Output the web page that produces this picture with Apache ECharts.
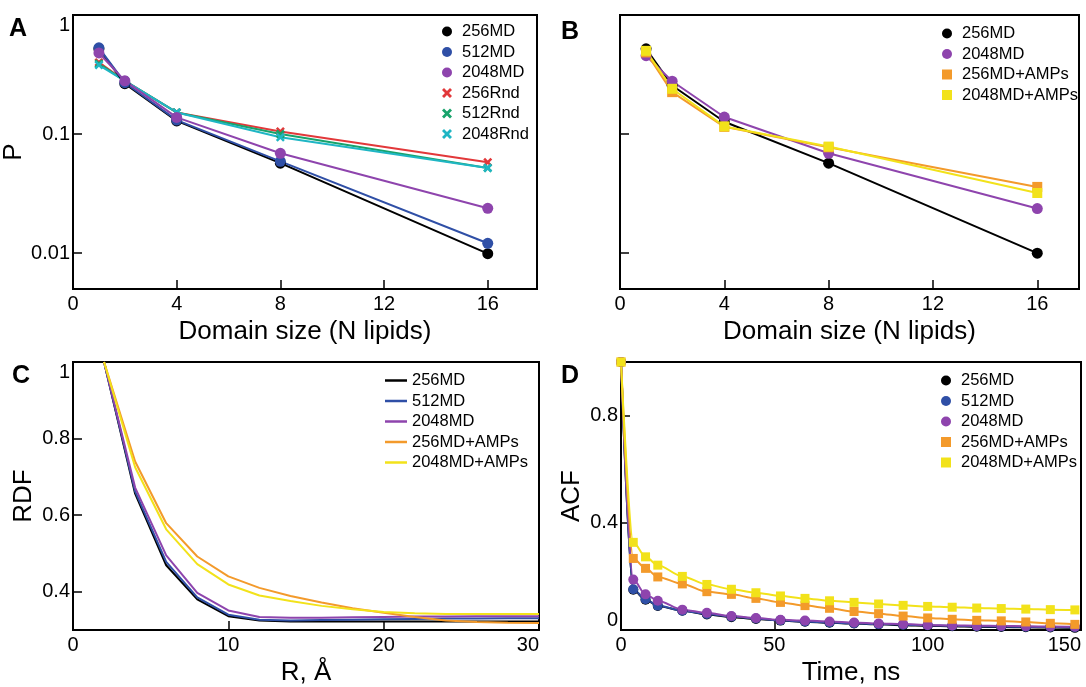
<!DOCTYPE html>
<html><head><meta charset="utf-8">
<script src="https://cdn.jsdelivr.net/npm/echarts@6/dist/echarts.min.js"></script>
<style>html,body{margin:0;padding:0;background:#fff}#c{width:1086px;height:687px}</style>
</head><body><div id="c"></div>
<script>
// ---------- Panel A / B : probability vs domain size ----------
const domainSizes = [1, 2, 4, 8, 16];
const domainTicks = [0, 4, 8, 12, 16];
const pA_256MD   = [0.52, 0.265, 0.129, 0.057, 0.0099];
const pA_512MD   = [0.53, 0.27, 0.131, 0.059, 0.0121];
const pA_2048MD  = [0.48, 0.28, 0.138, 0.069, 0.0238];
const pA_256Rnd  = [0.40, 0.28, 0.152, 0.105, 0.058];
const pA_512Rnd  = [0.39, 0.28, 0.152, 0.100, 0.052];
const pA_2048Rnd = [0.38, 0.28, 0.152, 0.094, 0.052];
const pB_256MD      = [0.52, 0.256, 0.127, 0.057, 0.0100];
const pB_2048MD     = [0.455, 0.278, 0.139, 0.069, 0.0237];
const pB_256MDAMPs  = [0.485, 0.225, 0.115, 0.0774, 0.036];
const pB_2048MDAMPs = [0.50, 0.24, 0.116, 0.0785, 0.032];

// ---------- Panel C : RDF ----------
const rdfR = [2, 4, 6, 8, 10, 12, 14, 16, 18, 20, 22, 24, 26, 28, 30];
const rdfTicksX = [0, 10, 20, 30];
const rdfTicksY = [0.4, 0.6, 0.8, 1];
const rdf_256MD      = [1.0, 0.656, 0.469, 0.380, 0.336, 0.325, 0.322, 0.322, 0.322, 0.322, 0.322, 0.322, 0.322, 0.322, 0.322];
const rdf_512MD      = [1.0, 0.662, 0.478, 0.385, 0.340, 0.327, 0.325, 0.326, 0.327, 0.328, 0.329, 0.330, 0.330, 0.331, 0.331];
const rdf_2048MD     = [1.0, 0.672, 0.495, 0.397, 0.351, 0.334, 0.332, 0.332, 0.333, 0.334, 0.335, 0.335, 0.336, 0.336, 0.336];
const rdf_256MDAMPs  = [1.0, 0.740, 0.579, 0.492, 0.440, 0.410, 0.389, 0.372, 0.357, 0.345, 0.334, 0.325, 0.321, 0.319, 0.318];
const rdf_2048MDAMPs = [1.0, 0.725, 0.563, 0.472, 0.419, 0.390, 0.376, 0.363, 0.354, 0.347, 0.344, 0.342, 0.342, 0.342, 0.342];

// ---------- Panel D : ACF ----------
const acfTime = [0, 4, 8, 12, 20, 28, 36, 44, 52, 60, 68, 76, 84, 92, 100, 108, 116, 124, 132, 140, 148];
const acfTicksX = [0, 50, 100, 150];
const acfTicksY = [0, 0.4, 0.8];
const acf_256MD      = [1.0, 0.150, 0.113, 0.090, 0.072, 0.058, 0.048, 0.041, 0.035, 0.031, 0.027, 0.024, 0.021, 0.018, 0.016, 0.014, 0.012, 0.011, 0.010, 0.009, 0.008];
const acf_512MD      = [1.0, 0.152, 0.115, 0.091, 0.072, 0.060, 0.050, 0.043, 0.036, 0.032, 0.028, 0.025, 0.022, 0.020, 0.018, 0.016, 0.014, 0.013, 0.012, 0.011, 0.010];
const acf_2048MD     = [1.0, 0.188, 0.133, 0.109, 0.076, 0.064, 0.052, 0.045, 0.038, 0.035, 0.032, 0.028, 0.024, 0.022, 0.019, 0.017, 0.016, 0.015, 0.014, 0.013, 0.012];
const acf_256MDAMPs  = [1.0, 0.267, 0.230, 0.198, 0.172, 0.143, 0.133, 0.118, 0.103, 0.091, 0.081, 0.069, 0.061, 0.052, 0.045, 0.040, 0.036, 0.034, 0.030, 0.025, 0.021];
const acf_2048MDAMPs = [1.0, 0.327, 0.273, 0.242, 0.200, 0.170, 0.152, 0.139, 0.127, 0.118, 0.109, 0.103, 0.097, 0.092, 0.088, 0.085, 0.082, 0.080, 0.078, 0.076, 0.075];

// ---------- styling ----------
const FONT = 'Liberation Sans, Arial, Helvetica, sans-serif';
const C_BLACK = '#000000', C_BLUE = '#2f4fa6', C_PURPLE = '#8e44ad',
      C_RED = '#e2383a', C_GREEN = '#17a36b', C_CYAN = '#1fb6c4',
      C_ORANGE = '#f39a2b', C_YELLOW = '#f2e21a';
const X_PATH = 'path://M0,2 L2,0 L5,3 L8,0 L10,2 L7,5 L10,8 L8,10 L5,7 L2,10 L0,8 L3,5 Z';

function pairs(xs, ys) { return xs.map((x, i) => [x, ys[i]]); }
function ser(name, idx, xs, ys, color, symbol, size, opts) {
  return Object.assign({
    name: name, type: 'line', xAxisIndex: idx, yAxisIndex: idx,
    data: pairs(xs, ys), color: color,
    symbol: symbol, symbolSize: size, showSymbol: symbol !== 'none',
    lineStyle: { color: color, width: 2 },
    itemStyle: { color: color },
    emphasis: { disabled: true }, z: 3
  }, opts || {});
}
const tickStyle = { inside: true, length: 9, lineStyle: { color: '#000', width: 1.5 } };
const lineAx = { show: true, onZero: false, lineStyle: { color: '#000', width: 2 } };
const lblBase = { color: '#000', fontSize: 20, fontFamily: FONT };
const nameStyle = { color: '#000', fontSize: 26, fontFamily: FONT };

function xValAxis(idx, min, max, ticks, name, extraLbl) {
  return {
    type: 'value', gridIndex: idx, min: min, max: max,
    axisLine: lineAx,
    axisTick: Object.assign({ customValues: ticks }, tickStyle),
    axisLabel: Object.assign({ customValues: ticks, margin: 5 }, lblBase, extraLbl || {}),
    splitLine: { show: false },
    name: name, nameLocation: 'middle', nameGap: 30, nameTextStyle: nameStyle
  };
}
function logYAxis(idx, showLabels, name) {
  return {
    type: 'log', logBase: 10, gridIndex: idx, min: 0.005, max: 1,
    axisLine: lineAx, axisTick: tickStyle,
    axisLabel: Object.assign({
      show: showLabels, margin: 3, showMinLabel: false, verticalAlignMaxLabel: 'top',
      formatter: v => String(Number(Number(v).toPrecision(3)))
    }, lblBase),
    splitLine: { show: false }, minorTick: { show: false },
    name: name, nameLocation: 'middle', nameGap: 36, nameTextStyle: nameStyle
  };
}
function valYAxis(idx, min, max, ticks, name, extraLbl) {
  return {
    type: 'value', gridIndex: idx, min: min, max: max,
    axisLine: lineAx,
    axisTick: Object.assign({ customValues: ticks }, tickStyle),
    axisLabel: Object.assign({ customValues: ticks, margin: 3 }, lblBase, extraLbl || {}),
    splitLine: { show: false },
    name: name, nameLocation: 'middle', nameGap: 36, nameTextStyle: nameStyle
  };
}
function legend(left, top, items, iw, ih, pad) {
  return {
    left: left, top: top, orient: 'vertical', selectedMode: false,
    itemWidth: iw, itemHeight: ih, itemGap: 3.5,
    formatter: n => n.split('|')[1],
    textStyle: { color: '#000', fontSize: 16.5, fontFamily: FONT, lineHeight: 16, padding: [0, 0, 0, pad] },
    data: items
  };
}
const gridStyle = { show: true, borderColor: '#000', borderWidth: 2, backgroundColor: 'transparent' };

const option = {
  animation: false,
  backgroundColor: '#fff',
  textStyle: { fontFamily: FONT },
  grid: [
    Object.assign({ left: 73, top: 15, width: 464, height: 274 }, gridStyle),
    Object.assign({ left: 620, top: 15, width: 459, height: 274 }, gridStyle),
    Object.assign({ left: 73, top: 362, width: 466, height: 274 }, gridStyle),
    Object.assign({ left: 621, top: 362, width: 460, height: 274 }, gridStyle)
  ],
  xAxis: [
    xValAxis(0, 0, 17.9, domainTicks, 'Domain size (N lipids)'),
    xValAxis(1, 0, 17.6, domainTicks, 'Domain size (N lipids)'),
    xValAxis(2, 0, 30, rdfTicksX, 'R, Å', { alignMaxLabel: 'right' }),
    xValAxis(3, 0, 150, acfTicksX, 'Time, ns', { alignMaxLabel: 'right' })
  ],
  yAxis: [
    logYAxis(0, true, 'P'),
    logYAxis(1, false, ''),
    valYAxis(2, 0.3, 1, rdfTicksY, 'RDF', { verticalAlignMaxLabel: 'top' }),
    valYAxis(3, 0, 1, acfTicksY, 'ACF', { verticalAlignMinLabel: 'bottom' })
  ],
  legend: [
    legend(437, 18, [
      { name: 'A|256MD', icon: 'circle' }, { name: 'A|512MD', icon: 'circle' },
      { name: 'A|2048MD', icon: 'circle' }, { name: 'A|256Rnd', icon: X_PATH },
      { name: 'A|512Rnd', icon: X_PATH }, { name: 'A|2048Rnd', icon: X_PATH }], 10, 10, 5),
    legend(937, 20, [
      { name: 'B|256MD', icon: 'circle' }, { name: 'B|2048MD', icon: 'circle' },
      { name: 'B|256MD+AMPs', icon: 'rect' }, { name: 'B|2048MD+AMPs', icon: 'rect' }], 10, 10, 5),
    legend(380, 367, [
      { name: 'C|256MD', icon: 'rect' }, { name: 'C|512MD', icon: 'rect' },
      { name: 'C|2048MD', icon: 'rect' }, { name: 'C|256MD+AMPs', icon: 'rect' },
      { name: 'C|2048MD+AMPs', icon: 'rect' }], 22, 2.5, 0),
    legend(936, 367, [
      { name: 'D|256MD', icon: 'circle' }, { name: 'D|512MD', icon: 'circle' },
      { name: 'D|2048MD', icon: 'circle' }, { name: 'D|256MD+AMPs', icon: 'rect' },
      { name: 'D|2048MD+AMPs', icon: 'rect' }], 10, 10, 5)
  ],
  graphic: [
    { type: 'text', left: 9, top: 17, style: { text: 'A', font: 'bold 25px ' + FONT, fill: '#000' } },
    { type: 'text', left: 561, top: 20, style: { text: 'B', font: 'bold 25px ' + FONT, fill: '#000' } },
    { type: 'text', left: 12, top: 364, style: { text: 'C', font: 'bold 25px ' + FONT, fill: '#000' } },
    { type: 'text', left: 561, top: 364, style: { text: 'D', font: 'bold 25px ' + FONT, fill: '#000' } }
  ],
  series: [
    ser('A|256Rnd', 0, domainSizes, pA_256Rnd, C_RED, X_PATH, 9),
    ser('A|512Rnd', 0, domainSizes, pA_512Rnd, C_GREEN, X_PATH, 9),
    ser('A|2048Rnd', 0, domainSizes, pA_2048Rnd, C_CYAN, X_PATH, 9),
    ser('A|256MD', 0, domainSizes, pA_256MD, C_BLACK, 'circle', 11),
    ser('A|512MD', 0, domainSizes, pA_512MD, C_BLUE, 'circle', 11),
    ser('A|2048MD', 0, domainSizes, pA_2048MD, C_PURPLE, 'circle', 11),

    ser('B|256MD', 1, domainSizes, pB_256MD, C_BLACK, 'circle', 11),
    ser('B|2048MD', 1, domainSizes, pB_2048MD, C_PURPLE, 'circle', 11),
    ser('B|256MD+AMPs', 1, domainSizes, pB_256MDAMPs, C_ORANGE, 'rect', 10),
    ser('B|2048MD+AMPs', 1, domainSizes, pB_2048MDAMPs, C_YELLOW, 'rect', 10),

    ser('C|256MD', 2, rdfR, rdf_256MD, C_BLACK, 'none', 0),
    ser('C|512MD', 2, rdfR, rdf_512MD, C_BLUE, 'none', 0),
    ser('C|2048MD', 2, rdfR, rdf_2048MD, C_PURPLE, 'none', 0),
    ser('C|256MD+AMPs', 2, rdfR, rdf_256MDAMPs, C_ORANGE, 'none', 0),
    ser('C|2048MD+AMPs', 2, rdfR, rdf_2048MDAMPs, C_YELLOW, 'none', 0),

    ser('D|256MD', 3, acfTime, acf_256MD, C_BLACK, 'circle', 10, { smooth: 0.3, smoothMonotone: 'x' }),
    ser('D|512MD', 3, acfTime, acf_512MD, C_BLUE, 'circle', 10, { smooth: 0.3, smoothMonotone: 'x' }),
    ser('D|2048MD', 3, acfTime, acf_2048MD, C_PURPLE, 'circle', 10, { smooth: 0.3, smoothMonotone: 'x' }),
    ser('D|256MD+AMPs', 3, acfTime, acf_256MDAMPs, C_ORANGE, 'rect', 9, { smooth: 0.3, smoothMonotone: 'x' }),
    ser('D|2048MD+AMPs', 3, acfTime, acf_2048MDAMPs, C_YELLOW, 'rect', 9, { smooth: 0.3, smoothMonotone: 'x' })
  ]
};
const chart = echarts.init(document.getElementById('c'), null, { renderer: 'canvas' });
chart.setOption(option);
</script>
</body></html>
